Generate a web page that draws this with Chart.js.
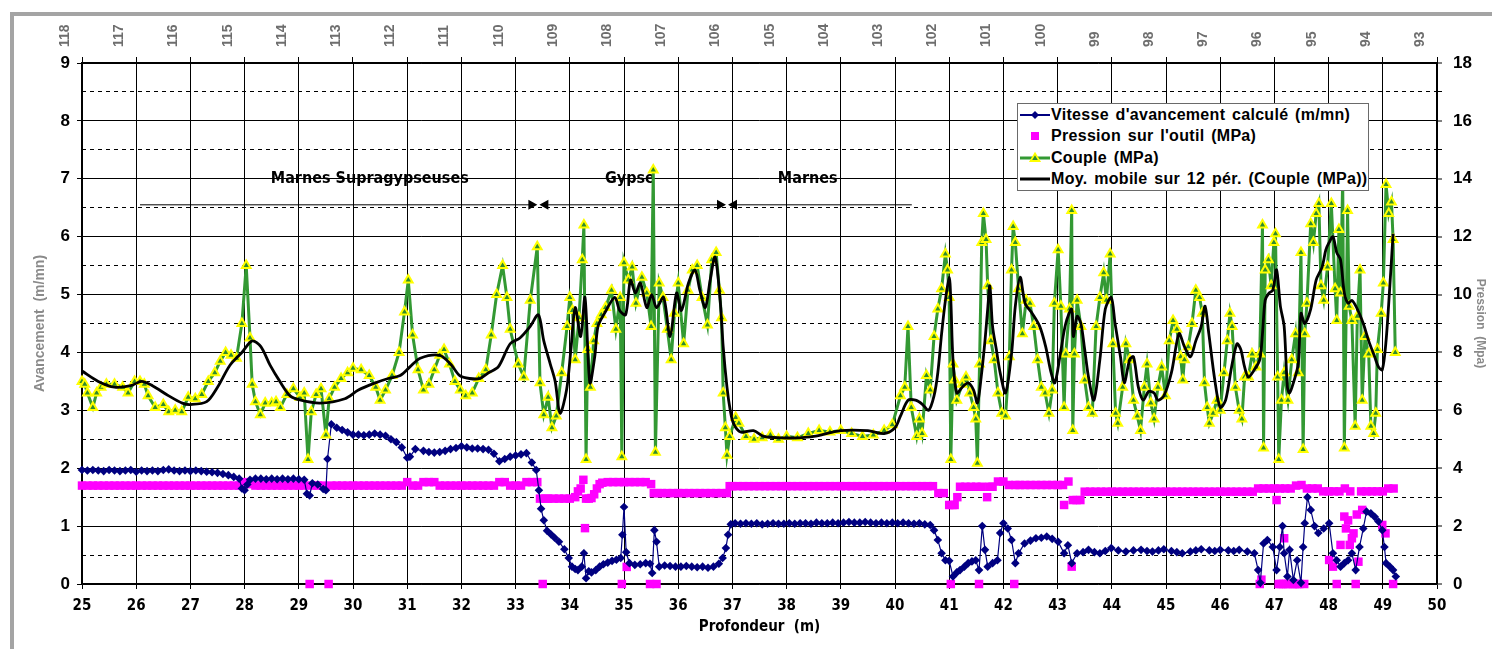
<!DOCTYPE html>
<html>
<head>
<meta charset="utf-8">
<script src="https://cdn.jsdelivr.net/npm/chart.js@4.4.1/dist/chart.umd.min.js"></script>
<style>
  html, body { margin: 0; padding: 0; background: #fff; }
  #wrap { position: relative; width: 1492px; height: 649px; overflow: hidden; }
  #chart { position: absolute; left: 0; top: 0; }
  .frame { position: absolute; background: #a4a4a4; }
  #legend {
    position: absolute; left: 1017px; top: 103px; width: 352px; height: 88px;
    box-sizing: border-box; border: 1.5px solid #6a6a6a; background: #fff;
    font: bold 16px 'Liberation Sans', Arial, sans-serif; color: #000;
    letter-spacing: 0.3px; word-spacing: 2px;
  }
  #legend .row { position: absolute; left: 1px; height: 22px; display: flex; align-items: center; white-space: nowrap; }
  #legend svg { width: 32px; height: 22px; flex: none; }
</style>
</head>
<body>
<div id="wrap">
  <canvas id="chart" width="1492" height="649"></canvas>
  <div class="frame" style="left:10px;top:12px;width:1482px;height:4px"></div>
  <div class="frame" style="left:10px;top:12px;width:4px;height:637px"></div>
  <div id="legend">
    <div class="row" style="top:0px">
      <svg viewBox="0 0 32 22"><line x1="1" y1="11" x2="31" y2="11" stroke="#000080" stroke-width="2"/><polygon points="16,7 20,11 16,15 12,11" fill="#000080"/></svg>
      <span>Vitesse d'avancement calculé (m/mn)</span>
    </div>
    <div class="row" style="top:21px">
      <svg viewBox="0 0 32 22"><rect x="12" y="7" width="8" height="8" fill="#ff00ff"/></svg>
      <span>Pression sur l'outil (MPa)</span>
    </div>
    <div class="row" style="top:43px">
      <svg viewBox="0 0 32 22"><line x1="1" y1="11" x2="31" y2="11" stroke="#339933" stroke-width="3"/><polygon points="16,6.5 20.5,14 11.5,14" fill="#2e8b2e" stroke="#ffff00" stroke-width="1.8"/></svg>
      <span>Couple (MPa)</span>
    </div>
    <div class="row" style="top:64px">
      <svg viewBox="0 0 32 22"><line x1="1" y1="11" x2="31" y2="11" stroke="#000" stroke-width="3"/></svg>
      <span>Moy. mobile sur 12 pér. (Couple (MPa))</span>
    </div>
  </div>
</div>
<script>
// profondeur (m) -> vitesse d'avancement (m/mn), axe gauche
const vitesseDepth = [
  25.0, 25.1, 25.2, 25.3, 25.4, 25.5, 25.6, 25.7, 25.8, 25.9,
  26.0, 26.1, 26.2, 26.3, 26.4, 26.5, 26.6, 26.7, 26.8, 26.9,
  27.0, 27.1, 27.2, 27.3, 27.4, 27.5, 27.6, 27.7, 27.8, 27.9,
  27.95, 28.0, 28.05, 28.1, 28.2, 28.3, 28.4, 28.5, 28.6, 28.7,
  28.8, 28.9, 29.0, 29.1, 29.15, 29.2, 29.25, 29.35, 29.45, 29.5,
  29.53, 29.6, 29.7, 29.8, 29.9, 30.0, 30.1, 30.2, 30.3, 30.4,
  30.5, 30.6, 30.7, 30.8, 30.9, 31.0, 31.05, 31.15, 31.3, 31.4,
  31.5, 31.6, 31.7, 31.8, 31.9, 32.0, 32.1, 32.2, 32.3, 32.4,
  32.5, 32.6, 32.7, 32.8, 32.9, 33.0, 33.1, 33.2, 33.3, 33.38,
  33.43, 33.47, 33.52, 33.58, 33.65, 33.72, 33.8, 33.9, 33.98, 34.04,
  34.1, 34.15, 34.22, 34.26, 34.3, 34.35, 34.4, 34.48, 34.55, 34.62,
  34.7, 34.78, 34.86, 34.94, 34.97, 35.0, 35.04, 35.1, 35.2, 35.3,
  35.4, 35.48, 35.52, 35.56, 35.6, 35.65, 35.75, 35.85, 35.95, 36.05,
  36.15, 36.25, 36.35, 36.45, 36.55, 36.65, 36.75, 36.82, 36.88, 36.92,
  36.97, 37.05, 37.15, 37.25, 37.35, 37.45, 37.55, 37.65, 37.75, 37.85,
  37.95, 38.05, 38.15, 38.25, 38.35, 38.45, 38.55, 38.65, 38.75, 38.85,
  38.95, 39.05, 39.15, 39.25, 39.35, 39.45, 39.55, 39.65, 39.75, 39.85,
  39.95, 40.05, 40.15, 40.25, 40.35, 40.45, 40.55, 40.65, 40.72, 40.79,
  40.86, 40.93, 41.0, 41.07, 41.14, 41.2, 41.28, 41.35, 41.42, 41.49,
  41.55, 41.61, 41.66, 41.71, 41.8, 41.89, 41.94, 42.0, 42.08, 42.15,
  42.22, 42.28, 42.39, 42.5, 42.6, 42.7, 42.8, 42.9, 43.01, 43.12,
  43.19, 43.26, 43.36, 43.47, 43.57, 43.68, 43.78, 43.88, 43.99, 44.12,
  44.26, 44.4, 44.54, 44.65, 44.75, 44.86, 44.96, 45.1, 45.2, 45.3,
  45.45, 45.55, 45.65, 45.8, 45.9, 46.0, 46.15, 46.25, 46.35, 46.5,
  46.63, 46.7, 46.74, 46.8, 46.87, 46.97, 47.04, 47.1, 47.15, 47.18,
  47.24, 47.28, 47.35, 47.42, 47.49, 47.53, 47.56, 47.61, 47.67, 47.74,
  47.81, 47.91, 48.01, 48.08, 48.15, 48.22, 48.29, 48.36, 48.43, 48.5,
  48.57, 48.64, 48.7, 48.78, 48.85, 48.92, 48.99, 49.03, 49.06, 49.13,
  49.19, 49.24
];
const vitesse = [
  1.97, 1.96, 1.97, 1.96, 1.95, 1.97, 1.96, 1.95, 1.96, 1.97,
  1.94, 1.96, 1.95, 1.96, 1.95, 1.97, 1.98, 1.96, 1.95, 1.96,
  1.95, 1.96, 1.95, 1.94, 1.93, 1.92, 1.9, 1.88, 1.85, 1.82,
  1.65, 1.62, 1.72, 1.8, 1.82, 1.82, 1.81, 1.82, 1.81, 1.82,
  1.81, 1.82, 1.81, 1.8, 1.56, 1.53, 1.74, 1.72, 1.64, 1.62,
  2.16, 2.76, 2.7, 2.66, 2.62, 2.58, 2.58, 2.57, 2.58, 2.6,
  2.58, 2.56, 2.5, 2.45, 2.36, 2.18, 2.2, 2.33, 2.3, 2.28,
  2.27, 2.28, 2.3, 2.33, 2.35, 2.38, 2.36, 2.34, 2.34, 2.33,
  2.32, 2.25, 2.12, 2.16, 2.2, 2.22, 2.24, 2.26, 2.1, 1.97,
  1.62, 1.3, 1.1, 0.92, 0.86, 0.8, 0.73, 0.6, 0.45, 0.3,
  0.26, 0.24, 0.3, 0.53, 0.1, 0.22, 0.2, 0.24, 0.3, 0.34,
  0.37, 0.4, 0.42, 0.45, 0.85, 1.33, 0.55, 0.36, 0.33, 0.34,
  0.36, 0.35, 0.19, 0.93, 0.73, 0.3, 0.32, 0.31, 0.3, 0.3,
  0.31, 0.3, 0.29, 0.3, 0.28, 0.3, 0.35, 0.45, 0.62, 0.85,
  1.03, 1.05, 1.04, 1.05, 1.04, 1.05, 1.03, 1.04, 1.05, 1.04,
  1.04, 1.05, 1.04, 1.05, 1.05, 1.04, 1.06, 1.05, 1.05, 1.06,
  1.05, 1.06, 1.07, 1.06, 1.06, 1.07, 1.06, 1.05, 1.06, 1.05,
  1.06, 1.05, 1.06, 1.05, 1.04, 1.05, 1.03, 1.02, 0.93, 0.76,
  0.53, 0.41, 0.4, 0.13, 0.2, 0.24, 0.3, 0.36, 0.39, 0.41,
  0.24, 1.0, 0.59, 0.3, 0.36, 0.41, 0.88, 1.05, 0.96, 0.76,
  0.36, 0.53, 0.7, 0.75, 0.79, 0.8, 0.82, 0.78, 0.73, 0.53,
  0.67, 0.36, 0.53, 0.55, 0.59, 0.55, 0.53, 0.57, 0.62, 0.58,
  0.56, 0.58, 0.59, 0.57, 0.56, 0.58, 0.6, 0.57, 0.55, 0.53,
  0.56, 0.58, 0.6, 0.58, 0.57, 0.59, 0.58, 0.57, 0.59, 0.56,
  0.53, 0.24, 0.02, 0.7, 0.76, 0.64, 0.24, 0.64, 1.0, 0.53,
  0.13, 0.59, 0.07, 0.41, 0.02, 0.64, 1.05, 1.5, 1.28, 1.0,
  0.88, 0.96, 1.05, 0.53, 0.41, 0.3, 0.36, 0.41, 0.53, 0.24,
  0.64, 0.96, 1.25, 1.22, 1.16, 1.08, 0.93, 0.64, 0.36, 0.3,
  0.24, 0.13
];

// profondeur (m) -> pression sur l'outil (MPa), axe droit
const pressionDepth = [
  25.0, 25.1, 25.2, 25.3, 25.4, 25.5, 25.6, 25.7, 25.8, 25.9,
  26.0, 26.1, 26.2, 26.3, 26.4, 26.5, 26.6, 26.7, 26.8, 26.9,
  27.0, 27.1, 27.2, 27.3, 27.4, 27.5, 27.6, 27.7, 27.8, 27.9,
  28.0, 28.1, 28.2, 28.3, 28.4, 28.5, 28.6, 28.7, 28.8, 28.9,
  29.0, 29.1, 29.2, 29.25, 29.35, 29.45, 29.55, 29.6, 29.7, 29.8,
  29.9, 30.0, 30.1, 30.2, 30.3, 30.4, 30.5, 30.6, 30.7, 30.8,
  30.9, 31.0, 31.1, 31.2, 31.3, 31.4, 31.5, 31.6, 31.7, 31.8,
  31.9, 32.0, 32.1, 32.2, 32.3, 32.4, 32.5, 32.6, 32.7, 32.8,
  32.9, 33.0, 33.1, 33.2, 33.3, 33.4, 33.45, 33.5, 33.55, 33.6,
  33.7, 33.8, 33.9, 34.0, 34.1, 34.15, 34.2, 34.25, 34.28, 34.3,
  34.35, 34.4, 34.45, 34.5, 34.55, 34.6, 34.7, 34.8, 34.9, 34.96,
  35.0, 35.05, 35.1, 35.2, 35.3, 35.4, 35.48, 35.5, 35.55, 35.6,
  35.62, 35.7, 35.8, 35.9, 36.0, 36.1, 36.2, 36.3, 36.4, 36.5,
  36.6, 36.7, 36.8, 36.9, 36.95, 37.0, 37.1, 37.2, 37.3, 37.4,
  37.5, 37.6, 37.7, 37.8, 37.9, 38.0, 38.1, 38.2, 38.3, 38.4,
  38.5, 38.6, 38.7, 38.8, 38.9, 39.0, 39.1, 39.2, 39.3, 39.4,
  39.5, 39.6, 39.7, 39.8, 39.9, 40.0, 40.1, 40.2, 40.3, 40.4,
  40.5, 40.6, 40.7, 40.8, 40.9, 41.0, 41.03, 41.06, 41.1, 41.15,
  41.2, 41.3, 41.4, 41.5, 41.55, 41.6, 41.7, 41.75, 41.8, 41.9,
  42.0, 42.1, 42.2, 42.22, 42.3, 42.4, 42.5, 42.6, 42.7, 42.8,
  42.9, 43.0, 43.1, 43.12, 43.2, 43.26, 43.28, 43.35, 43.42, 43.5,
  43.6, 43.7, 43.8, 43.9, 44.0, 44.1, 44.2, 44.3, 44.4, 44.5,
  44.6, 44.7, 44.8, 44.9, 45.0, 45.1, 45.2, 45.3, 45.4, 45.5,
  45.6, 45.7, 45.8, 45.9, 46.0, 46.1, 46.2, 46.3, 46.4, 46.5,
  46.6, 46.7, 46.73, 46.76, 46.8, 46.9, 47.0, 47.04, 47.08, 47.1,
  47.12, 47.16, 47.18, 47.2, 47.22, 47.26, 47.3, 47.34, 47.38, 47.4,
  47.42, 47.46, 47.5, 47.55, 47.6, 47.7, 47.8, 47.9, 48.0, 48.01,
  48.08, 48.1, 48.15, 48.2, 48.22, 48.29, 48.3, 48.32, 48.36, 48.39,
  48.4, 48.43, 48.46, 48.5, 48.52, 48.55, 48.6, 48.62, 48.7, 48.8,
  48.9, 48.99, 49.0, 49.05, 49.1, 49.19, 49.2
];
const pression = [
  3.4, 3.4, 3.4, 3.4, 3.4, 3.4, 3.4, 3.4, 3.4, 3.4,
  3.4, 3.4, 3.4, 3.4, 3.4, 3.4, 3.4, 3.4, 3.4, 3.4,
  3.4, 3.4, 3.4, 3.4, 3.4, 3.4, 3.4, 3.4, 3.4, 3.4,
  3.52, 3.45, 3.4, 3.4, 3.4, 3.4, 3.4, 3.4, 3.4, 3.4,
  3.4, 3.4, 0, 3.4, 3.4, 3.4, 0, 3.4, 3.4, 3.4,
  3.4, 3.4, 3.4, 3.4, 3.4, 3.4, 3.4, 3.4, 3.4, 3.4,
  3.4, 3.52, 3.4, 3.4, 3.52, 3.52, 3.52, 3.4, 3.4, 3.4,
  3.4, 3.4, 3.4, 3.4, 3.4, 3.4, 3.4, 3.4, 3.52, 3.52,
  3.4, 3.4, 3.4, 3.52, 3.52, 3.52, 2.95, 0, 2.95, 2.95,
  2.95, 2.95, 2.95, 2.95, 3.0, 3.2, 3.3, 3.6, 1.93, 2.95,
  2.95, 2.97, 3.1, 3.3, 3.45, 3.5, 3.52, 3.52, 3.52, 0,
  3.52, 0.59, 3.52, 3.52, 3.52, 3.52, 0, 3.45, 3.14, 0,
  3.14, 3.14, 3.14, 3.14, 3.14, 3.14, 3.14, 3.14, 3.14, 3.14,
  3.14, 3.14, 3.14, 3.14, 3.38, 3.38, 3.38, 3.38, 3.38, 3.38,
  3.38, 3.38, 3.38, 3.38, 3.38, 3.38, 3.38, 3.38, 3.38, 3.38,
  3.38, 3.38, 3.38, 3.38, 3.38, 3.38, 3.38, 3.38, 3.38, 3.38,
  3.38, 3.38, 3.38, 3.38, 3.38, 3.38, 3.38, 3.38, 3.38, 3.38,
  3.38, 3.38, 3.38, 3.14, 3.14, 2.73, 0, 2.73, 2.73, 3.0,
  3.36, 3.36, 3.36, 3.36, 0, 3.36, 3.0, 3.36, 3.36, 3.54,
  3.54, 3.42, 0, 3.42, 3.42, 3.42, 3.42, 3.42, 3.42, 3.42,
  3.42, 3.42, 3.42, 2.73, 3.54, 0.6, 2.9, 2.9, 2.9, 3.19,
  3.19, 3.19, 3.19, 3.19, 3.19, 3.19, 3.19, 3.19, 3.19, 3.19,
  3.19, 3.19, 3.19, 3.19, 3.19, 3.19, 3.19, 3.19, 3.19, 3.19,
  3.19, 3.19, 3.19, 3.19, 3.19, 3.19, 3.19, 3.19, 3.19, 3.19,
  3.19, 3.3, 0, 0.15, 3.3, 3.3, 3.3, 2.9, 0, 3.3,
  0, 0, 1.58, 3.3, 0, 0, 3.3, 0, 0, 3.4,
  0, 0, 3.42, 0, 3.3, 3.3, 3.3, 3.2, 3.2, 0.83,
  0.6, 3.2, 0, 3.2, 1.35, 2.33, 3.3, 1.92, 2.2, 1.35,
  3.2, 1.58, 1.75, 0, 2.4, 0.77, 3.2, 2.56, 3.2, 3.2,
  3.2, 2.04, 3.2, 1.75, 3.3, 0, 3.3
];

// profondeur (m) -> couple (MPa), axe droit
const coupleDepth = [
  25.0, 25.05, 25.1, 25.2, 25.27, 25.35, 25.45, 25.6, 25.75, 25.85,
  25.97, 26.07, 26.15, 26.22, 26.35, 26.5, 26.6, 26.72, 26.84, 26.96,
  27.09, 27.21, 27.33, 27.45, 27.55, 27.65, 27.75, 27.85, 27.95, 28.03,
  28.1, 28.14, 28.2, 28.29, 28.38, 28.5, 28.58, 28.66, 28.78, 28.9,
  29.02, 29.1, 29.17, 29.23, 29.32, 29.41, 29.5, 29.56, 29.66, 29.78,
  29.9, 30.0, 30.15, 30.3, 30.42, 30.5, 30.6, 30.72, 30.85, 30.95,
  31.02, 31.1, 31.2, 31.3, 31.4, 31.5, 31.6, 31.68, 31.78, 31.88,
  31.98, 32.08, 32.2, 32.32, 32.45, 32.55, 32.65, 32.76, 32.84, 32.9,
  33.05, 33.15, 33.27, 33.4, 33.45, 33.52, 33.6, 33.67, 33.75, 33.85,
  33.95, 34.0, 34.05, 34.1, 34.17, 34.23, 34.26, 34.3, 34.33, 34.38,
  34.44, 34.5, 34.58, 34.66, 34.77, 34.85, 34.93, 34.96, 35.0, 35.08,
  35.15, 35.22, 35.33, 35.42, 35.5, 35.54, 35.58, 35.65, 35.72, 35.8,
  35.87, 35.93, 36.0, 36.1, 36.18, 36.26, 36.35, 36.44, 36.54, 36.62,
  36.7, 36.76, 36.8, 36.83, 36.87, 36.9, 36.95, 37.06, 37.12, 37.25,
  37.4, 37.55, 37.7, 37.85, 38.0, 38.2, 38.4, 38.6, 38.8, 39.0,
  39.2, 39.4, 39.6, 39.8, 39.95, 40.1, 40.18, 40.24, 40.3, 40.4,
  40.45, 40.5, 40.58, 40.65, 40.72, 40.79, 40.86, 40.93, 40.97, 41.0,
  41.03, 41.07, 41.1, 41.14, 41.24, 41.31, 41.38, 41.45, 41.49, 41.52,
  41.56, 41.6, 41.63, 41.68, 41.71, 41.77, 41.83, 41.9, 41.97, 42.04,
  42.11, 42.15, 42.18, 42.22, 42.28, 42.35, 42.42, 42.49, 42.56, 42.63,
  42.7, 42.77, 42.84, 42.9, 42.94, 43.01, 43.06, 43.12, 43.15, 43.22,
  43.26, 43.28, 43.31, 43.36, 43.43, 43.5, 43.57, 43.64, 43.71, 43.78,
  43.85, 43.9, 43.97, 44.02, 44.07, 44.11, 44.2, 44.26, 44.33, 44.4,
  44.47, 44.53, 44.6, 44.65, 44.72, 44.78, 44.85, 44.92, 44.99, 45.06,
  45.13, 45.2, 45.27, 45.31, 45.34, 45.41, 45.48, 45.55, 45.62, 45.67,
  45.71, 45.76, 45.8, 45.87, 45.94, 46.0, 46.07, 46.13, 46.18, 46.22,
  46.28, 46.35, 46.4, 46.45, 46.52, 46.59, 46.66, 46.73, 46.78, 46.8,
  46.83, 46.89, 46.94, 46.99, 47.02, 47.06, 47.08, 47.13, 47.18, 47.25,
  47.32, 47.39, 47.44, 47.49, 47.53, 47.56, 47.6, 47.67, 47.72, 47.77,
  47.82, 47.86, 47.91, 47.98, 48.05, 48.12, 48.15, 48.19, 48.22, 48.26,
  48.29, 48.35, 48.38, 48.43, 48.49, 48.53, 48.58, 48.62, 48.67, 48.74,
  48.78, 48.83, 48.87, 48.9, 48.97, 49.01, 49.06, 49.11, 49.16, 49.19,
  49.23
];
const couple = [
  7.0, 6.9, 6.6, 6.1, 6.6, 6.8, 6.9, 6.9, 6.8, 6.6,
  7.0, 7.0, 6.9, 6.5, 6.1, 6.2, 5.95, 6.0, 5.95, 6.45,
  6.4, 6.55, 7.0, 7.3, 7.7, 8.0, 7.9, 7.8, 9.0, 11.0,
  8.5, 6.9, 6.3, 5.85, 6.25, 6.25, 6.3, 6.1, 6.55, 6.75,
  6.45, 6.6, 4.3, 5.95, 6.55, 6.75, 5.15, 6.4, 6.8, 7.1,
  7.3, 7.45, 7.4, 7.2, 6.8, 6.35, 6.7, 7.2, 8.0, 9.4,
  10.5, 8.6, 7.4, 6.7, 6.9, 7.4, 7.9, 8.1, 7.6, 7.0,
  6.7, 6.5, 6.6, 7.1, 7.4, 8.6, 10.0, 11.0, 9.9, 8.8,
  7.6, 7.15, 9.8, 11.65, 6.95, 5.85, 6.45, 5.4, 5.8, 7.3,
  8.9, 9.9, 9.45, 7.75, 9.2, 11.2, 12.4, 4.3, 8.1, 6.8,
  8.4, 9.0, 9.3, 9.55, 10.15, 8.8, 9.9, 4.4, 11.1, 10.5,
  10.95, 9.7, 10.6, 10.05, 8.9, 14.3, 4.55, 10.4, 9.9, 8.8,
  7.75, 9.35, 10.4, 8.3, 10.15, 10.85, 11.0, 9.9, 8.95, 11.2,
  11.45, 10.15, 9.2, 6.6, 5.4, 4.45, 5.1, 5.75, 5.55, 5.1,
  5.0, 5.05, 5.15, 5.0, 5.1, 5.05, 5.2, 5.3, 5.25, 5.3,
  5.2, 5.1, 5.15, 5.3, 5.5, 6.5, 6.8, 8.9, 6.1, 5.1,
  5.7, 5.2, 7.2, 6.7, 8.55, 9.5, 10.2, 11.4, 10.85, 9.9,
  4.3, 7.6, 7.05, 6.35, 6.9, 7.15, 6.6, 6.1, 5.7, 4.17,
  7.6, 11.8, 12.8, 11.9, 10.3, 8.4, 7.75, 6.6, 5.9, 5.8,
  7.85, 10.85, 12.35, 11.8, 10.2, 8.65, 9.8, 9.7, 8.9, 7.75,
  6.8, 6.6, 5.9, 6.7, 9.7, 11.55, 9.6, 6.1, 7.95, 9.5,
  12.9, 5.3, 7.95, 9.8, 8.9, 7.05, 6.1, 5.9, 8.9, 9.9,
  10.75, 9.8, 11.4, 8.3, 5.9, 5.55, 6.8, 8.3, 7.75, 6.35,
  5.8, 5.3, 6.8, 7.6, 6.25, 5.7, 6.8, 7.5, 6.5, 8.4,
  9.1, 8.8, 7.85, 7.05, 7.75, 8.2, 9.0, 10.15, 9.9, 9.35,
  6.95, 6.1, 5.55, 5.9, 6.35, 6.0, 7.3, 8.4, 9.35, 8.9,
  6.8, 6.0, 5.7, 7.15, 7.15, 7.95, 7.5, 7.95, 12.4, 4.7,
  10.85, 11.2, 10.3, 11.8, 12.1, 7.15, 4.3, 6.35, 7.3, 6.35,
  7.75, 8.65, 7.3, 11.45, 4.65, 8.65, 9.7, 12.45, 11.8, 12.8,
  13.15, 10.3, 9.8, 10.95, 13.15, 10.2, 9.1, 12.25, 10.05, 14.0,
  4.7, 12.9, 9.6, 9.1, 5.45, 9.25, 10.85, 6.35, 8.55, 7.95,
  5.45, 5.2, 5.9, 8.1, 9.35, 10.4, 13.8, 12.8, 13.2, 11.9,
  8.0
];

// profondeur (m) -> moyenne mobile sur 12 périodes du couple (MPa)
const moyDepth = [
  25.0, 25.3, 25.6, 25.9, 26.1, 26.3, 26.6, 26.85, 27.0, 27.3,
  27.5, 27.73, 27.95, 28.14, 28.3, 28.47, 28.65, 28.84, 29.02, 29.39,
  29.85, 30.1, 30.4, 30.65, 30.87, 31.05, 31.24, 31.6, 31.8, 31.97,
  32.15, 32.34, 32.5, 32.68, 32.9, 33.08, 33.27, 33.42, 33.52, 33.64,
  33.73, 33.82, 33.94, 34.02, 34.1, 34.2, 34.28, 34.37, 34.46, 34.52,
  34.64, 34.83, 34.92, 35.03, 35.12, 35.21, 35.3, 35.42, 35.51, 35.6,
  35.73, 35.85, 35.97, 36.06, 36.19, 36.31, 36.4, 36.5, 36.59, 36.68,
  36.77, 36.83, 36.9, 36.96, 37.02, 37.15, 37.39, 37.58, 37.9, 38.2,
  38.5, 39.0, 39.5, 39.8, 40.0, 40.1, 40.24, 40.38, 40.51, 40.62,
  40.72, 40.79, 40.86, 40.93, 41.0, 41.03, 41.07, 41.14, 41.24, 41.35,
  41.45, 41.52, 41.59, 41.66, 41.71, 41.75, 41.8, 41.87, 41.94, 42.04,
  42.15, 42.22, 42.31, 42.4, 42.53, 42.67, 42.78, 42.88, 42.95, 43.05,
  43.15, 43.26, 43.29, 43.36, 43.43, 43.5, 43.57, 43.67, 43.78, 43.88,
  43.99, 44.06, 44.16, 44.23, 44.33, 44.4, 44.49, 44.58, 44.68, 44.78,
  44.85, 44.96, 45.1, 45.24, 45.34, 45.45, 45.55, 45.65, 45.72, 45.79,
  45.9, 46.0, 46.1, 46.21, 46.31, 46.38, 46.45, 46.52, 46.63, 46.73,
  46.78, 46.83, 46.9, 46.97, 47.04, 47.11, 47.18, 47.24, 47.28, 47.35,
  47.44, 47.49, 47.56, 47.67, 47.77, 47.88, 47.95, 48.01, 48.08, 48.15,
  48.22, 48.29, 48.36, 48.43, 48.53, 48.64, 48.74, 48.85, 48.92, 48.99,
  49.06, 49.13, 49.19
];
const moyMobile = [
  7.36, 7.0, 6.8, 6.85, 7.0, 6.85, 6.5, 6.25, 6.2, 6.3,
  6.8, 7.56, 8.0, 8.4, 8.2, 7.56, 7.0, 6.5, 6.36, 6.25,
  6.4, 6.7, 6.94, 7.1, 7.2, 7.5, 7.8, 7.9, 7.6, 7.2,
  7.1, 7.1, 7.3, 7.5, 8.3, 8.5, 8.9, 9.3, 8.4, 7.6,
  7.0, 5.9, 6.7, 8.1, 9.55, 8.55, 9.9, 6.95, 7.85, 8.9,
  9.35, 9.9, 9.45, 9.3, 10.5, 10.05, 10.4, 9.55, 10.0, 9.55,
  9.9, 8.55, 10.05, 9.45, 10.4, 10.85, 10.15, 9.55, 10.5, 11.3,
  9.9, 8.2, 6.8, 6.0, 5.55, 5.25, 5.3, 5.1, 5.05, 5.05,
  5.1, 5.3, 5.3, 5.2, 5.4, 5.8, 6.35, 6.35, 6.2, 6.0,
  6.5, 7.3, 8.65, 9.8, 10.6, 9.8, 7.75, 6.6, 6.8, 6.95,
  6.7, 6.25, 7.15, 8.4, 9.5, 10.3, 8.9, 8.1, 7.3, 6.6,
  7.95, 9.6, 10.6, 9.7, 9.35, 8.9, 8.2, 7.3, 6.95, 7.95,
  9.0, 9.5, 8.55, 9.25, 9.0, 8.1, 7.15, 6.35, 7.75, 9.5,
  9.9, 9.0, 7.85, 6.95, 7.75, 7.85, 6.8, 6.35, 6.65, 6.6,
  6.35, 6.5, 7.3, 8.65, 8.2, 7.85, 8.4, 8.9, 9.6, 8.65,
  7.05, 6.1, 6.35, 7.5, 8.3, 8.1, 7.5, 7.15, 7.4, 7.75,
  8.65, 9.8, 10.05, 10.15, 10.85, 9.6, 8.9, 6.8, 6.6, 6.95,
  7.6, 9.35, 9.0, 9.5, 10.5, 10.95, 11.55, 11.8, 12.0, 11.45,
  11.2, 10.05, 9.7, 9.8, 9.5, 9.0, 8.4, 7.85, 7.5, 7.4,
  8.4, 10.3, 12.1
];

// axe du haut : cote NGF (m)
const altitudeTicks = [118, 117, 116, 115, 114, 113, 112, 111, 110, 109, 108, 107, 106,
  105, 104, 103, 102, 101, 100, 99, 98, 97, 96, 95, 94, 93];

// formations géologiques
const layerNames = ['Marnes Supragypseuses', 'Gypse', 'Marnes'];
const layerNameDepth = [30.31, 35.11, 38.39];
const layerNameLevel = 7.0;
const layerSegments = [[26.07, 33.25], [33.6, 36.72], [37.08, 40.31]];
const layerBounds = [33.42, 36.9];
const layerLineLevel = 6.55;

const xy = (xs, ys) => xs.map((x, i) => ({ x: x, y: ys[i] }));

const boldFont = "'Liberation Sans', Arial, sans-serif";
const narrowFont = "'Liberation Sans Narrow', 'DejaVu Sans Condensed', 'Liberation Sans', sans-serif";

const formations = {
  id: 'formations',
  beforeDatasetsDraw(chart) {
    const { ctx, scales: { x, y } } = chart;
    const ly = y.getPixelForValue(layerLineLevel);
    ctx.save();
    ctx.strokeStyle = '#000';
    ctx.fillStyle = '#000';
    ctx.lineWidth = 1;
    layerSegments.forEach(([a, b]) => {
      ctx.beginPath();
      ctx.moveTo(x.getPixelForValue(a), ly);
      ctx.lineTo(x.getPixelForValue(b), ly);
      ctx.stroke();
    });
    layerBounds.forEach(d => {
      const px = x.getPixelForValue(d);
      ctx.beginPath();
      ctx.moveTo(px - 1, ly); ctx.lineTo(px - 10, ly - 5); ctx.lineTo(px - 10, ly + 5);
      ctx.closePath(); ctx.fill();
      ctx.beginPath();
      ctx.moveTo(px + 1, ly); ctx.lineTo(px + 10, ly - 5); ctx.lineTo(px + 10, ly + 5);
      ctx.closePath(); ctx.fill();
    });
    ctx.font = 'bold 16px ' + narrowFont;
    ctx.textAlign = 'center';
    ctx.textBaseline = 'middle';
    layerNames.forEach((n, i) => {
      ctx.fillText(n, x.getPixelForValue(layerNameDepth[i]), y.getPixelForValue(layerNameLevel));
    });
    ctx.restore();
  }
};

new Chart(document.getElementById('chart'), {
  type: 'scatter',
  data: {
    datasets: [
      {
        label: "Vitesse d'avancement calculé (m/mn)",
        data: xy(vitesseDepth, vitesse),
        yAxisID: 'y',
        showLine: true,
        borderColor: '#000080',
        borderWidth: 1.2,
        backgroundColor: '#000080',
        pointStyle: 'rectRot',
        pointRadius: 4.3,
        pointBorderWidth: 0,
        clip: false,
        order: 2
      },
      {
        label: "Pression sur l'outil (MPa)",
        data: xy(pressionDepth, pression),
        yAxisID: 'y2',
        showLine: false,
        backgroundColor: '#ff00ff',
        borderColor: '#ff00ff',
        pointStyle: 'rect',
        pointRadius: 6,
        pointBorderWidth: 0,
        clip: false,
        order: 3
      },
      {
        label: 'Couple (MPa)',
        data: xy(coupleDepth, couple),
        yAxisID: 'y2',
        showLine: true,
        borderColor: '#339933',
        borderWidth: 3,
        pointStyle: 'triangle',
        pointRadius: 5,
        pointBackgroundColor: '#2e8b2e',
        pointBorderColor: '#ffff00',
        pointBorderWidth: 2,
        clip: false,
        order: 1
      },
      {
        label: 'Moy. mobile sur 12 pér. (Couple (MPa))',
        data: xy(moyDepth, moyMobile),
        yAxisID: 'y2',
        showLine: true,
        borderColor: '#000',
        borderWidth: 2.8,
        pointRadius: 0,
        tension: 0.3,
        order: 0
      }
    ]
  },
  options: {
    responsive: false,
    animation: false,
    layout: { padding: { left: 28, right: 0, top: 0, bottom: 9 } },
    plugins: { legend: { display: false }, tooltip: { enabled: false } },
    scales: {
      x: {
        type: 'linear', position: 'bottom', min: 25, max: 50,
        ticks: { stepSize: 1, autoSkip: false, maxRotation: 0, color: '#000', padding: 8,
                 font: { family: narrowFont, size: 15, weight: 'bold' } },
        grid: { color: '#000', lineWidth: 1, tickLength: 5 },
        border: { color: '#000', width: 1.5 },
        title: { display: true, text: 'Profondeur  (m)', color: '#000',
                 font: { family: narrowFont, size: 15, weight: 'bold' } },
        afterFit: s => { s.height = 56; }
      },
      xTop: {
        type: 'linear', position: 'top', min: 93, max: 118, reverse: true,
        afterBuildTicks: s => { s.ticks = altitudeTicks.map(v => ({ value: v })); },
        ticks: { autoSkip: false, minRotation: 90, maxRotation: 90, color: '#6e6e6e', padding: 10,
                 font: { family: boldFont, size: 14, weight: 'bold' } },
        grid: { drawOnChartArea: false, color: '#000', tickLength: 6 },
        border: { color: '#000', width: 1.5 },
        afterFit: s => { s.height = 63; }
      },
      y: {
        position: 'left', min: 0, max: 9,
        ticks: { stepSize: 1, color: '#000', padding: 7, font: { family: boldFont, size: 17, weight: 'bold' } },
        grid: { color: '#000', lineWidth: 1, tickLength: 5 },
        border: { color: '#000', width: 1.5 },
        title: { display: true, text: 'Avancement  (m/mn)', color: '#8a8a8a',
                 font: { family: boldFont, size: 14, weight: 'bold' } },
        afterFit: s => { s.width = 54; }
      },
      y2: {
        position: 'right', min: 0, max: 18,
        ticks: { stepSize: 1, color: '#000', padding: 11, font: { family: boldFont, size: 17, weight: 'bold' },
                 callback: v => (v % 2 === 0 ? v : '') },
        grid: { drawOnChartArea: true, color: '#000', tickColor: '#000',
                lineWidth: c => (c.tick && c.tick.value % 2 === 1 ? 1 : 0), tickWidth: 1, tickLength: 5 },
        border: { color: '#000', width: 1.5, dash: [4, 4] },
        title: { display: true, text: 'Pression  (Mpa)', color: '#8a8a8a',
                 font: { family: boldFont, size: 12, weight: 'bold' } },
        afterFit: s => { s.width = 55; }
      }
    }
  },
  plugins: [formations]
});
</script>
</body>
</html>
